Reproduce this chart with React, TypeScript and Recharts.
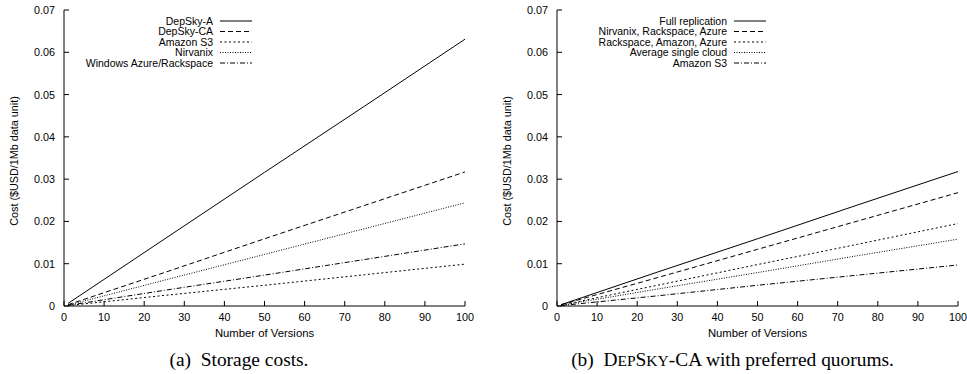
import React from "react";
import { LineChart, Line, XAxis, YAxis, Legend, Label } from "recharts";

// values (cost grows linearly with versions)
const versions = [1, 25, 50, 75, 100];
const xTicks = [0, 10, 20, 30, 40, 50, 60, 70, 80, 90, 100];
const yTicks = [0, 0.01, 0.02, 0.03, 0.04, 0.05, 0.06, 0.07];

// (a) storage costs
const depskyA = [0.0006, 0.0158, 0.0316, 0.0473, 0.0631];
const depskyCA = [0.0003, 0.0079, 0.0159, 0.0238, 0.0317];
const amazonS3 = [0.0001, 0.0025, 0.0049, 0.0074, 0.0099];
const nirvanix = [0.0002, 0.0061, 0.0122, 0.0183, 0.0244];
const azureRackspace = [0.00015, 0.0037, 0.0073, 0.011, 0.0147];

// (b) DepSky-CA with preferred quorums
const fullReplication = [0.0003, 0.008, 0.0159, 0.0239, 0.0318];
const nirvRackAzure = [0.0003, 0.0067, 0.0134, 0.0201, 0.0268];
const rackAmazonAzure = [0.0002, 0.0049, 0.0098, 0.0146, 0.0195];
const avgSingleCloud = [0.00016, 0.004, 0.0079, 0.0119, 0.0158];
const amazonS3b = [0.0001, 0.0024, 0.0049, 0.0073, 0.0097];

const storageNames = ["DepSky-A", "DepSky-CA", "Amazon S3", "Nirvanix", "Windows Azure/Rackspace"];
const quorumNames = [
  "Full replication",
  "Nirvanix, Rackspace, Azure",
  "Rackspace, Amazon, Azure",
  "Average single cloud",
  "Amazon S3",
];

// gnuplot line types 1..5
const dashes = [undefined, "5 3", "2 2.5", "1 1.5", "5 2 1 2"];
const keys = ["s1", "s2", "s3", "s4", "s5"];

const storageData = versions.map((v, i) => ({
  v,
  s1: depskyA[i],
  s2: depskyCA[i],
  s3: amazonS3[i],
  s4: nirvanix[i],
  s5: azureRackspace[i],
}));

const quorumData = versions.map((v, i) => ({
  v,
  s1: fullReplication[i],
  s2: nirvRackAzure[i],
  s3: rackAmazonAzure[i],
  s4: avgSingleCloud[i],
  s5: amazonS3b[i],
}));

const FONT = '"Liberation Sans", Arial, Helvetica, sans-serif';
const TICK_LEN = 5;

function BottomTick(props: any) {
  const { x, y, payload } = props;
  return (
    <g>
      <line x1={x} y1={y} x2={x} y2={y - TICK_LEN} stroke="#000" />
      <text x={x} y={y + 15} textAnchor="middle" fontSize={10.8} fontFamily={FONT} fill="#000">
        {payload.value}
      </text>
    </g>
  );
}

function TopTick(props: any) {
  const { x, y } = props;
  return <line x1={x} y1={y} x2={x} y2={y + TICK_LEN} stroke="#000" />;
}

function LeftTick(props: any) {
  const { x, y, payload } = props;
  return (
    <g>
      <line x1={x} y1={y} x2={x + TICK_LEN} y2={y} stroke="#000" />
      <text x={x - 9} y={y + 4} textAnchor="end" fontSize={10.8} fontFamily={FONT} fill="#000">
        {String(payload.value)}
      </text>
    </g>
  );
}

function RightTick(props: any) {
  const { x, y } = props;
  return <line x1={x} y1={y} x2={x - TICK_LEN} y2={y} stroke="#000" />;
}

function YTitle(props: any) {
  const vb = props.viewBox;
  const cx = vb.x + 10;
  const cy = vb.y + vb.height / 2 + 3;
  return (
    <text
      x={cx}
      y={cy}
      transform={`rotate(-90, ${cx}, ${cy})`}
      textAnchor="middle"
      dominantBaseline="central"
      fontSize={10.8}
      fontFamily={FONT}
      fill="#000"
    >
      Cost ($USD/1Mb data unit)
    </text>
  );
}

function KeyBox({ names, textRight }: { names: string[]; textRight: number }) {
  return (
    <svg width={textRight + 40} height={56} style={{ display: "block" }}>
      {names.map((n, i) => {
        const cy = 7 + i * 10.5;
        return (
          <g key={n}>
            <text x={textRight} y={cy + 3.8} textAnchor="end" fontSize={10.5} fontFamily={FONT} fill="#000">
              {n}
            </text>
            <line
              x1={textRight + 7}
              x2={textRight + 39}
              y1={cy}
              y2={cy}
              stroke="#000"
              strokeWidth={1}
              strokeDasharray={dashes[i]}
            />
          </g>
        );
      })}
    </svg>
  );
}

type PanelProps = {
  left: number;
  width: number;
  marginLeft: number;
  marginRight: number;
  data: any[];
  names: string[];
  keyLeft: number;
  keyTextRight: number;
  caption: React.ReactNode;
  captionCenter: number;
};

function Panel(p: PanelProps) {
  return (
    <div style={{ position: "absolute", left: p.left, top: 0, width: p.width, height: 374 }}>
      <LineChart
        width={p.width}
        height={342}
        data={p.data}
        margin={{ top: 10, right: p.marginRight, bottom: 0, left: p.marginLeft }}
      >
        <XAxis
          dataKey="v"
          type="number"
          domain={[0, 100]}
          ticks={xTicks}
          interval={0}
          height={36}
          tickSize={0}
          tickMargin={0}
          tickLine={false}
          axisLine={{ stroke: "#000" }}
          tick={<BottomTick />}
        >
          <Label
            value="Number of Versions"
            position="insideBottom"
            offset={5}
            style={{ fontSize: 11.3, fontFamily: FONT, fill: "#000" }}
          />
        </XAxis>
        <XAxis
          xAxisId="top"
          orientation="top"
          dataKey="v"
          type="number"
          domain={[0, 100]}
          ticks={xTicks}
          interval={0}
          height={0}
          tickSize={0}
          tickMargin={0}
          tickLine={false}
          axisLine={{ stroke: "#000" }}
          tick={<TopTick />}
        />
        <YAxis
          type="number"
          domain={[0, 0.07]}
          ticks={yTicks}
          interval={0}
          width={60}
          tickSize={0}
          tickMargin={0}
          tickLine={false}
          axisLine={{ stroke: "#000" }}
          tick={<LeftTick />}
        >
          <Label content={YTitle} />
        </YAxis>
        <YAxis
          yAxisId="right"
          orientation="right"
          type="number"
          domain={[0, 0.07]}
          ticks={yTicks}
          interval={0}
          width={0}
          tickSize={0}
          tickMargin={0}
          tickLine={false}
          axisLine={{ stroke: "#000" }}
          tick={<RightTick />}
        />
        <Legend
          layout="vertical"
          align="center"
          verticalAlign="middle"
          wrapperStyle={{ position: "absolute", top: 14, left: p.keyLeft, width: p.keyTextRight + 40 }}
          content={() => <KeyBox names={p.names} textRight={p.keyTextRight} />}
        />
        {keys.map((k, i) => (
          <Line
            key={k}
            type="linear"
            dataKey={k}
            name={p.names[i]}
            stroke="#000"
            strokeWidth={1}
            strokeDasharray={dashes[i]}
            dot={false}
            activeDot={false}
            isAnimationActive={false}
          />
        ))}
      </LineChart>
      <div
        style={{
          position: "absolute",
          left: p.captionCenter - 250,
          width: 500,
          top: 349,
          textAlign: "center",
          fontFamily: '"Liberation Serif", "Times New Roman", serif',
          fontSize: 19.4,
          color: "#000",
          whiteSpace: "nowrap",
        }}
      >
        {p.caption}
      </div>
    </div>
  );
}

export default function App() {
  return (
    <div style={{ position: "absolute", left: 0, top: 0, width: 967, height: 374, background: "#fff", overflow: "hidden" }}>
      <Panel
        left={0}
        width={480}
        marginLeft={4}
        marginRight={15}
        data={storageData}
        names={storageNames}
        keyLeft={80}
        keyTextRight={133}
        caption={<span>(a)&nbsp; Storage costs.</span>}
        captionCenter={239}
      />
      <Panel
        left={490}
        width={477}
        marginLeft={7}
        marginRight={9}
        data={quorumData}
        names={quorumNames}
        keyLeft={90}
        keyTextRight={147}
        caption={
          <span>
            (b)&nbsp; D<span style={{ fontSize: "0.8em" }}>EP</span>S<span style={{ fontSize: "0.8em" }}>KY</span>-CA with preferred quorums.
          </span>
        }
        captionCenter={242.5}
      />
    </div>
  );
}
